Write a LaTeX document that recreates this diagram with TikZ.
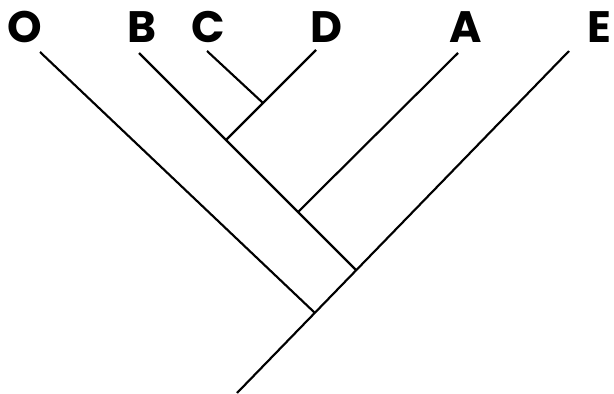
\documentclass[tikz,border=0pt]{standalone}
\usepackage{fontspec}
\usepackage{tikz}
\usetikzlibrary{calc}
\newfontfamily\taxonfont{Poppins}

\begin{document}
\begin{tikzpicture}[
  x=0.75pt, y=-0.75pt,
  taxon/.style={
    font=\taxonfont\bfseries\fontsize{33}{33}\selectfont,
    inner sep=0pt, anchor=base
  },
  branch/.style={line width=1.6pt, color=black},
]
\useasboundingbox (0,0) rectangle (614,393);

% Taxa
\node[taxon] (O) at (25,42) {O};
\node[taxon] (B) at (142,42) {B};
\node[taxon] (C) at (208,42) {C};
\node[taxon] (D) at (326,42) {D};
\node[taxon] (A) at (466,42) {A};
\node[taxon] (E) at (599,42) {E};

% Tips
\coordinate (tO) at (40,52);
\coordinate (tB) at (139,53);
\coordinate (tC) at (207,51);
\coordinate (tD) at (316,50);
\coordinate (tA) at (458,53);
\coordinate (tE) at (569,51);

% Internal nodes
\coordinate (root) at (237,393);
\coordinate (jO) at (315,313);
\coordinate (jE) at (356,270);
\coordinate (jA) at (298,212);
\coordinate (jB) at (226,140);
\coordinate (jCD) at (263,103);

% Branches
\draw[branch] (root) -- (tE);
\draw[branch] (tO) -- (jO);
\draw[branch] (tB) -- (jE);
\draw[branch] (tA) -- (jA);
\draw[branch] (tD) -- (jB);
\draw[branch] (tC) -- (jCD);

\end{tikzpicture}
\end{document}
